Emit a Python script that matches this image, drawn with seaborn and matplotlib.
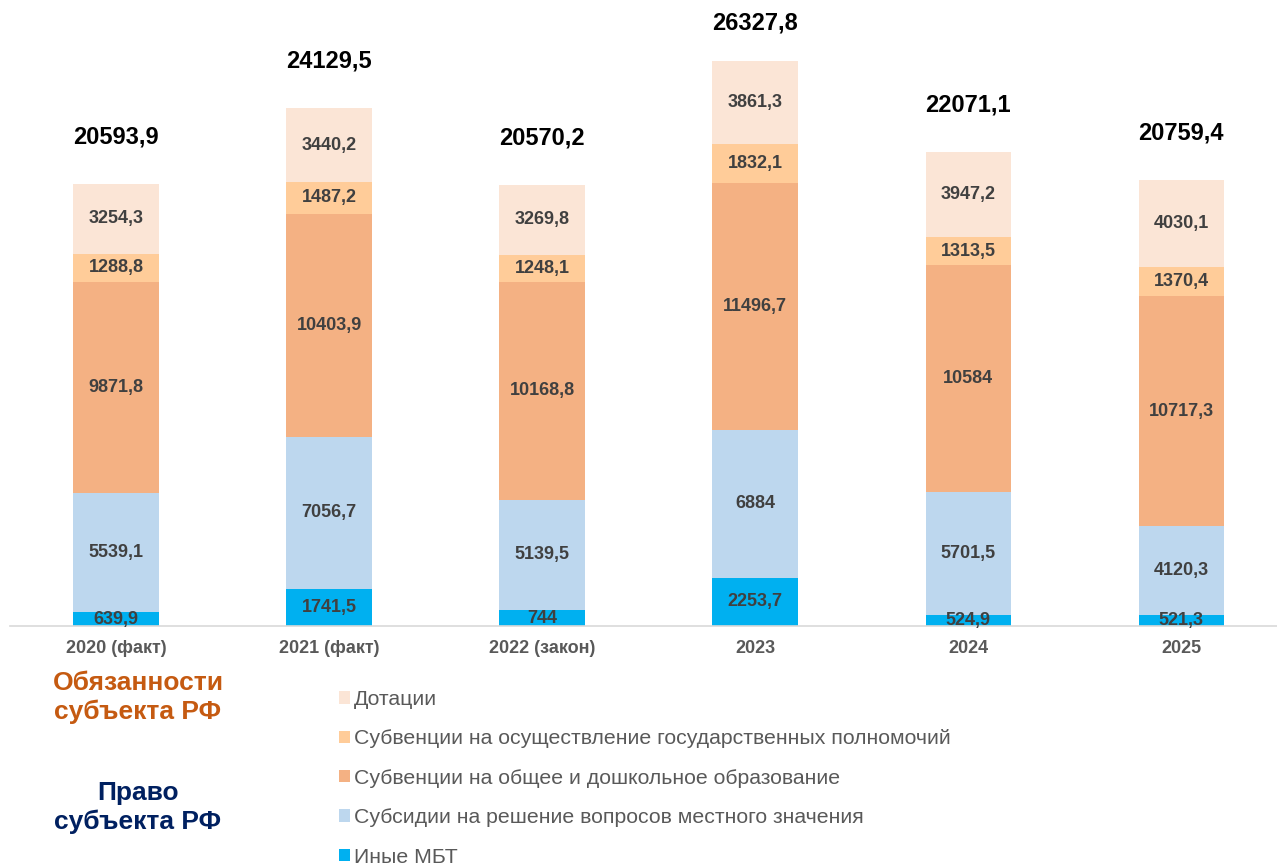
import matplotlib
matplotlib.use("Agg")
import matplotlib.pyplot as plt
import seaborn as sns
import pandas as pd
import numpy as np

categories = ["2020 (факт)", "2021 (факт)", "2022 (закон)", "2023", "2024", "2025"]
inye_mbt = [639.9, 1741.5, 744, 2253.7, 524.9, 521.3]
subsidii = [5539.1, 7056.7, 5139.5, 6884, 5701.5, 4120.3]
subv_obraz = [9871.8, 10403.9, 10168.8, 11496.7, 10584, 10717.3]
subv_poln = [1288.8, 1487.2, 1248.1, 1832.1, 1313.5, 1370.4]
dotacii = [3254.3, 3440.2, 3269.8, 3861.3, 3947.2, 4030.1]

series_names = [
    "Иные МБТ",
    "Субсидии на решение вопросов местного значения",
    "Субвенции на общее и дошкольное образование",
    "Субвенции на осуществление государственных полномочий",
    "Дотации",
]
series_values = [inye_mbt, subsidii, subv_obraz, subv_poln, dotacii]
colors = ["#00B0F0", "#BDD7EE", "#F4B183", "#FFCC99", "#FBE5D6"]

sns.set_theme(style="white")
plt.rcParams["font.family"] = ["Liberation Sans", "DejaVu Sans"]

W, H = 1277, 866
fig = plt.figure(figsize=(W / 100, H / 100), dpi=100)
ax = fig.add_axes([9.5 / W, 240 / H, 1 - 9.5 / W, 626 / H])
YMAX = 29170
px_per_unit = 626 / YMAX

def fmt(v):
    v = round(v, 1)
    if abs(v - round(v)) < 1e-9:
        return str(int(round(v)))
    return f"{v:.1f}".replace(".", ",")

bottom = np.zeros(len(categories))
handles = []
for name, vals, col in zip(series_names, series_values, colors):
    df = pd.DataFrame({"cat": categories, "val": vals})
    sns.barplot(data=df, x="cat", y="val", order=categories, color=col,
                saturation=1, width=0.4, bottom=bottom, ax=ax, errorbar=None,
                linewidth=0)
    cont = ax.containers[-1]
    ax.bar_label(cont, labels=[fmt(v) for v in vals], label_type="center",
                 fontsize=13, fontweight="bold", color="#404040")
    handles.append((cont.patches[0], name))
    bottom = bottom + np.array(vals, dtype=float)

totals = bottom
for i, t in enumerate(totals):
    y = min(t + 47 / px_per_unit, YMAX - 23 / px_per_unit)
    ax.text(i, y, fmt(t), ha="center", va="center", fontsize=17,
            fontweight="bold", color="black")

ax.set_xlim(-0.5, 5.45)
ax.set_ylim(0, YMAX)
ax.set_xlabel("")
ax.set_ylabel("")
ax.set_yticks([])
for s in ["top", "right", "left"]:
    ax.spines[s].set_visible(False)
ax.spines["bottom"].set_color("#D9D9D9")
ax.spines["bottom"].set_linewidth(1.2)
ax.tick_params(axis="x", length=0, pad=10, labelsize=13, labelcolor="#595959")
for lbl in ax.get_xticklabels():
    lbl.set_fontweight("bold")

# Legend (reverse order: Дотации on top)
leg_handles = [h for h, n in handles][::-1]
leg_labels = [n for h, n in handles][::-1]
fig.legend(leg_handles, leg_labels, loc="upper left",
           bbox_to_anchor=(339 / W, 1 - 690 / H), frameon=False,
           fontsize=15.3, labelcolor="#595959", handlelength=0.52,
           handleheight=0.52, handletextpad=0.19, labelspacing=0.96,
           borderaxespad=0, borderpad=0)

fig.text(138 / W, 1 - 697.5 / H, "Обязанности\nсубъекта РФ", ha="center",
         va="center", fontsize=19, fontweight="bold", color="#C55A11",
         linespacing=1.22)
fig.text(138 / W, 1 - 807.5 / H, "Право\nсубъекта РФ", ha="center",
         va="center", fontsize=19, fontweight="bold", color="#002060",
         linespacing=1.22)

fig.savefig("out.png", dpi=100)
